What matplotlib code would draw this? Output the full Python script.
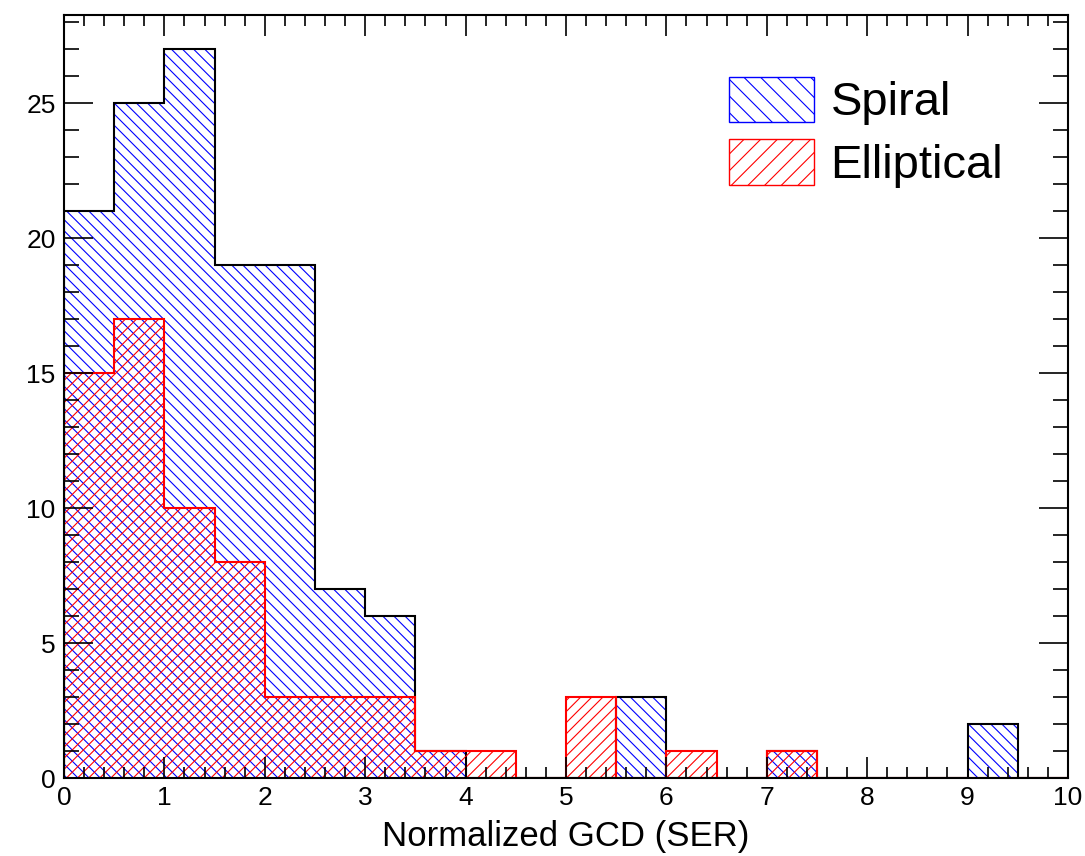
import numpy as np
import matplotlib
matplotlib.use('Agg')
import matplotlib.pyplot as plt
from matplotlib.patches import Patch
from matplotlib.ticker import MultipleLocator

plt.rcParams['font.family'] = ['Liberation Sans', 'DejaVu Sans']
plt.rcParams['hatch.linewidth'] = 0.8

# bins of 0.5 from 0 to 10
bordas = np.arange(0, 10.01, 0.5)
spiral = [21, 25, 27, 19, 19, 7, 6, 1, 0, 0, 0, 3, 0, 0, 1, 0, 0, 0, 2, 0]
eliptica = [15, 17, 10, 8, 3, 3, 3, 1, 1, 0, 3, 0, 1, 0, 1, 0, 0, 0, 0, 0]

fig = plt.figure(figsize=(10.85, 8.56), dpi=100)
ax = fig.add_axes([0.059, 0.0911, 0.9253, 0.8914])

# hatching (no outline) then outline
ax.stairs(spiral, bordas, baseline=0, fill=True, facecolor='none',
          edgecolor='blue', hatch='\\\\\\', linewidth=0)
ax.stairs(spiral, bordas, baseline=0, fill=False, color='black', linewidth=1.5)
ax.stairs(eliptica, bordas, baseline=0, fill=True, facecolor='none',
          edgecolor='red', hatch='///', linewidth=0)
ax.stairs(eliptica, bordas, baseline=0, fill=False, color='red', linewidth=1.5)

ax.set_xlim(0, 10)
ax.set_ylim(0, 28.26)
ax.xaxis.set_major_locator(MultipleLocator(1))
ax.xaxis.set_minor_locator(MultipleLocator(0.2))
ax.yaxis.set_major_locator(MultipleLocator(5))
ax.yaxis.set_minor_locator(MultipleLocator(1))
ax.tick_params(which='both', direction='in', top=True, right=True, width=1.2,
               labelsize=19, pad=6)
ax.tick_params(axis='x', which='major', length=15)
ax.tick_params(axis='x', which='minor', length=8)
ax.tick_params(axis='y', which='major', length=21)
ax.tick_params(axis='y', which='minor', length=11)
for s in ax.spines.values():
    s.set_linewidth(1.5)

ax.set_xlabel('Normalized GCD (SER)', fontsize=25, labelpad=7)

handles = [Patch(facecolor='none', edgecolor='blue', hatch='\\\\', label='Spiral'),
           Patch(facecolor='none', edgecolor='red', hatch='//', label='Elliptical')]
leg = ax.legend(handles=handles, loc='upper left', bbox_to_anchor=(0.620, 0.975),
                frameon=False, fontsize=34, handlelength=1.8, handleheight=1.1,
                handletextpad=0.35, labelspacing=0.3)

fig.savefig('out.png', dpi=100)
